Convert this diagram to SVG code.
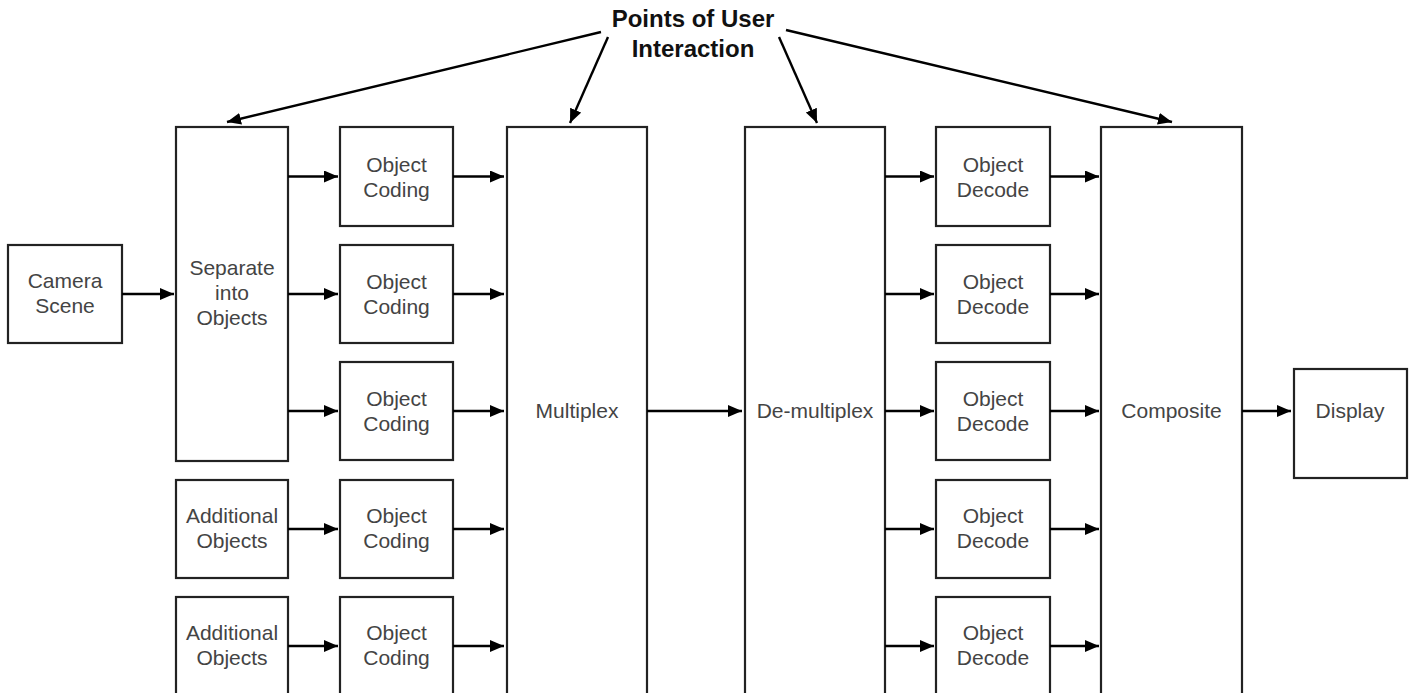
<svg xmlns="http://www.w3.org/2000/svg" width="1409" height="693" viewBox="0 0 1409 693">
<defs>
<marker id="ah" markerUnits="userSpaceOnUse" markerWidth="15" markerHeight="13" refX="14" refY="6" orient="auto">
<path d="M0,0 L14,6 L0,12 z" fill="#000"/>
</marker>
<style>
.box{fill:#fff;stroke:#222;stroke-width:2.2}
.t{font-family:"Liberation Sans",Arial,sans-serif;font-size:21px;fill:#444;text-anchor:middle}
.lbl{font-family:"Liberation Sans",Arial,sans-serif;font-size:24px;font-weight:bold;fill:#111;text-anchor:middle}
.c{stroke:#000;stroke-width:2.4;fill:none;marker-end:url(#ah)}
</style>
</defs>
<rect width="1409" height="693" fill="#fff"/>

<g id="label">
<text class="lbl" x="693" y="27">Points of User</text>
<text class="lbl" x="693" y="57">Interaction</text>
</g>

<g id="camera"><rect class="box" x="8" y="245" width="114" height="98"/>
<text class="t" x="65" y="288">Camera</text><text class="t" x="65" y="313">Scene</text></g>

<g id="separate"><rect class="box" x="176" y="127" width="112" height="334"/>
<text class="t" x="232" y="275">Separate</text><text class="t" x="232" y="300">into</text><text class="t" x="232" y="325">Objects</text></g>

<g id="add1"><rect class="box" x="176" y="480" width="112" height="98"/>
<text class="t" x="232" y="523">Additional</text><text class="t" x="232" y="548">Objects</text></g>
<g id="add2"><rect class="box" x="176" y="597" width="112" height="110"/>
<text class="t" x="232" y="640">Additional</text><text class="t" x="232" y="665">Objects</text></g>

<g id="code1"><rect class="box" x="340" y="127" width="113" height="99"/>
<text class="t" x="396.5" y="172">Object</text><text class="t" x="396.5" y="197">Coding</text></g>
<g id="code2"><rect class="box" x="340" y="245" width="113" height="98"/>
<text class="t" x="396.5" y="289">Object</text><text class="t" x="396.5" y="314">Coding</text></g>
<g id="code3"><rect class="box" x="340" y="362" width="113" height="98"/>
<text class="t" x="396.5" y="406">Object</text><text class="t" x="396.5" y="431">Coding</text></g>
<g id="code4"><rect class="box" x="340" y="480" width="113" height="98"/>
<text class="t" x="396.5" y="523">Object</text><text class="t" x="396.5" y="548">Coding</text></g>
<g id="code5"><rect class="box" x="340" y="597" width="113" height="110"/>
<text class="t" x="396.5" y="640">Object</text><text class="t" x="396.5" y="665">Coding</text></g>

<g id="multiplex"><rect class="box" x="507" y="127" width="140" height="580"/>
<text class="t" x="577" y="418">Multiplex</text></g>

<g id="demultiplex"><rect class="box" x="745" y="127" width="140" height="580"/>
<text class="t" x="815" y="418">De-multiplex</text></g>

<g id="dec1"><rect class="box" x="936" y="127" width="114" height="99"/>
<text class="t" x="993" y="172">Object</text><text class="t" x="993" y="197">Decode</text></g>
<g id="dec2"><rect class="box" x="936" y="245" width="114" height="98"/>
<text class="t" x="993" y="289">Object</text><text class="t" x="993" y="314">Decode</text></g>
<g id="dec3"><rect class="box" x="936" y="362" width="114" height="98"/>
<text class="t" x="993" y="406">Object</text><text class="t" x="993" y="431">Decode</text></g>
<g id="dec4"><rect class="box" x="936" y="480" width="114" height="98"/>
<text class="t" x="993" y="523">Object</text><text class="t" x="993" y="548">Decode</text></g>
<g id="dec5"><rect class="box" x="936" y="597" width="114" height="110"/>
<text class="t" x="993" y="640">Object</text><text class="t" x="993" y="665">Decode</text></g>

<g id="composite"><rect class="box" x="1101" y="127" width="141" height="580"/>
<text class="t" x="1171.5" y="418">Composite</text></g>

<g id="display"><rect class="box" x="1294" y="369" width="113" height="109"/>
<text class="t" x="1350" y="418">Display</text></g>

<g id="connectors">
<line class="c" x1="601" y1="32" x2="227" y2="122"/>
<line class="c" x1="608" y1="37" x2="570" y2="123"/>
<line class="c" x1="779" y1="37" x2="817" y2="123"/>
<line class="c" x1="786" y1="30" x2="1172" y2="122"/>

<line class="c" x1="122" y1="294" x2="174" y2="294"/>
<line class="c" x1="288" y1="176.5" x2="338" y2="176.5"/>
<line class="c" x1="288" y1="294" x2="338" y2="294"/>
<line class="c" x1="288" y1="411" x2="338" y2="411"/>
<line class="c" x1="288" y1="529" x2="338" y2="529"/>
<line class="c" x1="288" y1="646" x2="338" y2="646"/>

<line class="c" x1="453" y1="176.5" x2="504" y2="176.5"/>
<line class="c" x1="453" y1="294" x2="504" y2="294"/>
<line class="c" x1="453" y1="411" x2="504" y2="411"/>
<line class="c" x1="453" y1="529" x2="504" y2="529"/>
<line class="c" x1="453" y1="646" x2="504" y2="646"/>

<line class="c" x1="647" y1="411" x2="742" y2="411"/>

<line class="c" x1="885" y1="176.5" x2="934" y2="176.5"/>
<line class="c" x1="885" y1="294" x2="934" y2="294"/>
<line class="c" x1="885" y1="411" x2="934" y2="411"/>
<line class="c" x1="885" y1="529" x2="934" y2="529"/>
<line class="c" x1="885" y1="646" x2="934" y2="646"/>

<line class="c" x1="1050" y1="176.5" x2="1099" y2="176.5"/>
<line class="c" x1="1050" y1="294" x2="1099" y2="294"/>
<line class="c" x1="1050" y1="411" x2="1099" y2="411"/>
<line class="c" x1="1050" y1="529" x2="1099" y2="529"/>
<line class="c" x1="1050" y1="646" x2="1099" y2="646"/>

<line class="c" x1="1242" y1="411" x2="1291" y2="411"/>
</g>
</svg>
